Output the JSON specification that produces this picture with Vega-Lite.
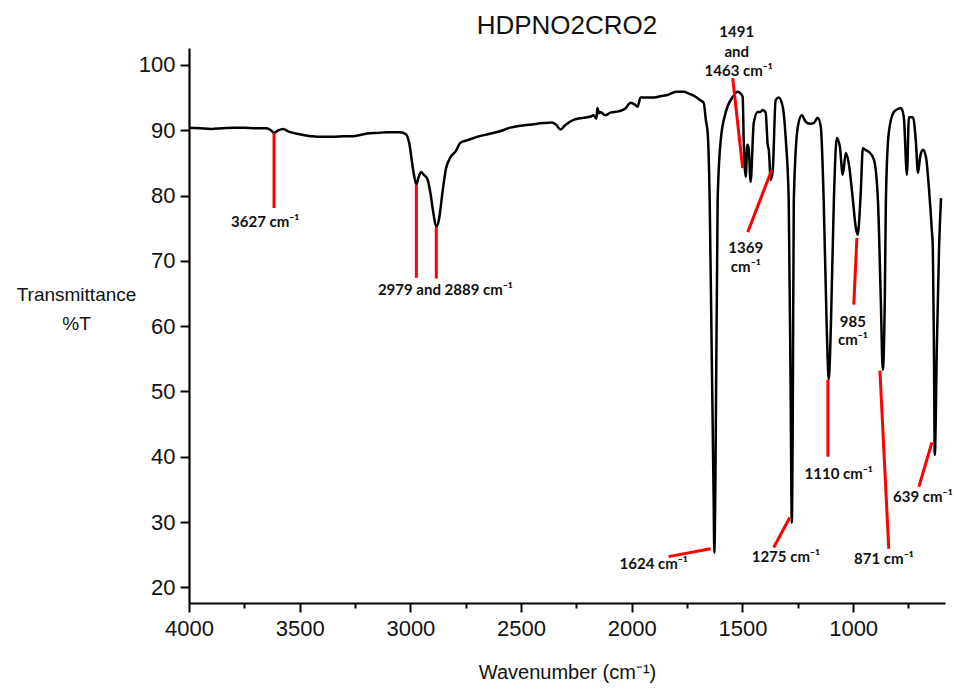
{
  "$schema": "https://vega.github.io/schema/vega-lite/v6.json",
  "autosize": {"type": "none"},
  "padding": {"left": 189, "top": 48, "right": 9, "bottom": 88},
  "width": 756,
  "height": 555,
  "background": "white",
  "config": {"view": {"stroke": null}},
  "title": {"text": "HDPNO2CRO2", "font": "Liberation Sans", "fontSize": 26, "fontWeight": "normal", "color": "#111", "anchor": "middle", "offset": -14},
  "datasets": {
    "spectrum": [
      {"wn": 4000, "t": 90.4}, {"wn": 3950, "t": 90.3}, {"wn": 3900, "t": 90.2}, {"wn": 3850, "t": 90.3},
      {"wn": 3800, "t": 90.4}, {"wn": 3750, "t": 90.4}, {"wn": 3700, "t": 90.3}, {"wn": 3650, "t": 90.3},
      {"wn": 3630, "t": 90.0}, {"wn": 3616, "t": 89.6}, {"wn": 3600, "t": 89.9}, {"wn": 3575, "t": 90.2},
      {"wn": 3550, "t": 89.8}, {"wn": 3500, "t": 89.4}, {"wn": 3450, "t": 89.1}, {"wn": 3421, "t": 89.0},
      {"wn": 3350, "t": 89.0}, {"wn": 3300, "t": 89.1}, {"wn": 3258, "t": 89.1}, {"wn": 3195, "t": 89.5},
      {"wn": 3150, "t": 89.6}, {"wn": 3100, "t": 89.7}, {"wn": 3046, "t": 89.7}, {"wn": 3020, "t": 89.4},
      {"wn": 3005, "t": 88.0}, {"wn": 2990, "t": 84.5}, {"wn": 2980, "t": 82.5}, {"wn": 2973, "t": 81.7},
      {"wn": 2963, "t": 82.8}, {"wn": 2951, "t": 83.6}, {"wn": 2940, "t": 83.2}, {"wn": 2924, "t": 82.6},
      {"wn": 2910, "t": 80.5}, {"wn": 2897, "t": 77.5}, {"wn": 2883, "t": 75.2}, {"wn": 2870, "t": 76.5},
      {"wn": 2855, "t": 80.5}, {"wn": 2840, "t": 84.0}, {"wn": 2820, "t": 85.8}, {"wn": 2795, "t": 86.8},
      {"wn": 2774, "t": 88.1}, {"wn": 2740, "t": 88.5}, {"wn": 2697, "t": 89.0}, {"wn": 2650, "t": 89.4},
      {"wn": 2600, "t": 89.8}, {"wn": 2548, "t": 90.4}, {"wn": 2500, "t": 90.7}, {"wn": 2450, "t": 90.9},
      {"wn": 2399, "t": 91.1}, {"wn": 2360, "t": 91.2}, {"wn": 2340, "t": 90.8}, {"wn": 2322, "t": 90.1},
      {"wn": 2300, "t": 90.8}, {"wn": 2263, "t": 91.6}, {"wn": 2220, "t": 91.9}, {"wn": 2185, "t": 92.1},
      {"wn": 2173, "t": 92.3}, {"wn": 2160, "t": 91.8}, {"wn": 2155, "t": 93.4}, {"wn": 2148, "t": 92.6},
      {"wn": 2141, "t": 92.8}, {"wn": 2120, "t": 92.3}, {"wn": 2096, "t": 92.7}, {"wn": 2060, "t": 92.9},
      {"wn": 2030, "t": 93.3}, {"wn": 2005, "t": 94.2}, {"wn": 1985, "t": 93.9}, {"wn": 1974, "t": 93.6},
      {"wn": 1960, "t": 95.0}, {"wn": 1930, "t": 95.0}, {"wn": 1900, "t": 95.0}, {"wn": 1860, "t": 95.3},
      {"wn": 1838, "t": 95.4}, {"wn": 1800, "t": 95.9}, {"wn": 1766, "t": 95.9}, {"wn": 1740, "t": 95.6},
      {"wn": 1720, "t": 95.3}, {"wn": 1690, "t": 94.6}, {"wn": 1675, "t": 94.2}, {"wn": 1665, "t": 91.5},
      {"wn": 1657, "t": 89.6}, {"wn": 1648, "t": 79.3}, {"wn": 1639, "t": 56.4}, {"wn": 1630, "t": 33.4},
      {"wn": 1627, "t": 25.3}, {"wn": 1622, "t": 36.5}, {"wn": 1612, "t": 79.3}, {"wn": 1598, "t": 88.5},
      {"wn": 1576, "t": 92.7}, {"wn": 1544, "t": 95.1}, {"wn": 1522, "t": 95.9}, {"wn": 1505, "t": 95.5},
      {"wn": 1499, "t": 95.1}, {"wn": 1494, "t": 88.1}, {"wn": 1485, "t": 82.9}, {"wn": 1478, "t": 87.8},
      {"wn": 1472, "t": 87.3}, {"wn": 1463, "t": 82.1}, {"wn": 1449, "t": 91.1}, {"wn": 1431, "t": 92.8},
      {"wn": 1420, "t": 92.8}, {"wn": 1408, "t": 93.1}, {"wn": 1395, "t": 92.7}, {"wn": 1386, "t": 87.8},
      {"wn": 1381, "t": 87.0}, {"wn": 1372, "t": 82.4}, {"wn": 1363, "t": 83.9}, {"wn": 1350, "t": 94.6},
      {"wn": 1336, "t": 95.0}, {"wn": 1318, "t": 93.6}, {"wn": 1304, "t": 88.5}, {"wn": 1291, "t": 79.3},
      {"wn": 1282, "t": 48.7}, {"wn": 1277, "t": 29.9}, {"wn": 1273, "t": 44.1}, {"wn": 1268, "t": 79.3},
      {"wn": 1250, "t": 90.5}, {"wn": 1232, "t": 92.3}, {"wn": 1214, "t": 91.3}, {"wn": 1195, "t": 91.0},
      {"wn": 1178, "t": 91.1}, {"wn": 1160, "t": 91.9}, {"wn": 1146, "t": 90.5}, {"wn": 1133, "t": 79.3},
      {"wn": 1119, "t": 59.4}, {"wn": 1110, "t": 51.8}, {"wn": 1101, "t": 59.4}, {"wn": 1087, "t": 79.3},
      {"wn": 1074, "t": 88.8}, {"wn": 1060, "t": 87.5}, {"wn": 1047, "t": 83.2}, {"wn": 1033, "t": 86.5},
      {"wn": 1020, "t": 85.0}, {"wn": 1001, "t": 79.3}, {"wn": 988, "t": 75.1}, {"wn": 979, "t": 74.0},
      {"wn": 974, "t": 75.5}, {"wn": 965, "t": 80.9}, {"wn": 956, "t": 87.3}, {"wn": 945, "t": 87.0},
      {"wn": 929, "t": 86.7}, {"wn": 906, "t": 85.5}, {"wn": 888, "t": 79.3}, {"wn": 875, "t": 64.0},
      {"wn": 866, "t": 53.3}, {"wn": 857, "t": 64.0}, {"wn": 852, "t": 79.3}, {"wn": 839, "t": 89.6},
      {"wn": 816, "t": 92.8}, {"wn": 795, "t": 93.3}, {"wn": 784, "t": 93.4}, {"wn": 771, "t": 92.0},
      {"wn": 757, "t": 83.2}, {"wn": 748, "t": 92.0}, {"wn": 730, "t": 92.0}, {"wn": 717, "t": 88.5},
      {"wn": 707, "t": 83.5}, {"wn": 697, "t": 86.0}, {"wn": 685, "t": 87.0}, {"wn": 671, "t": 85.9},
      {"wn": 658, "t": 81.3}, {"wn": 645, "t": 75.0}, {"wn": 640, "t": 72.0}, {"wn": 635, "t": 56.4},
      {"wn": 631, "t": 40.3}, {"wn": 622, "t": 56.4}, {"wn": 612, "t": 71.7}, {"wn": 603, "t": 79.6}
    ],
    "leaders": [
      {"x1": 3616, "y1": 89.6, "x2": 3616, "y2": 78.1},
      {"x1": 2973, "y1": 81.6, "x2": 2973, "y2": 67.4},
      {"x1": 2883, "y1": 75.2, "x2": 2883, "y2": 67.3},
      {"x1": 1834, "y1": 24.7, "x2": 1644, "y2": 25.9},
      {"x1": 1359, "y1": 26.1, "x2": 1286, "y2": 30.7},
      {"x1": 1114, "y1": 51.8, "x2": 1114, "y2": 40.0},
      {"x1": 983, "y1": 73.5, "x2": 997, "y2": 63.3},
      {"x1": 879, "y1": 53.2, "x2": 839, "y2": 25.9},
      {"x1": 644, "y1": 42.2, "x2": 703, "y2": 35.4},
      {"x1": 1368, "y1": 83.9, "x2": 1476, "y2": 74.4},
      {"x1": 1544, "y1": 98.0, "x2": 1499, "y2": 84.2}
    ],
    "labels": [
      {"label": "3627 cm⁻¹", "x": 3656, "y": 76.0},
      {"label": "2979 and 2889 cm⁻¹", "x": 2842, "y": 65.6},
      {"label": "1624 cm⁻¹", "x": 1901, "y": 23.5},
      {"label": "1275 cm⁻¹", "x": 1304, "y": 24.7},
      {"label": "1110 cm⁻¹", "x": 1065, "y": 37.4},
      {"label": "985", "x": 1001, "y": 60.7},
      {"label": "cm⁻¹", "x": 1001, "y": 57.9},
      {"label": "871 cm⁻¹", "x": 861, "y": 24.3},
      {"label": "639 cm⁻¹", "x": 685, "y": 33.9},
      {"label": "1369", "x": 1485, "y": 72.0},
      {"label": "cm⁻¹", "x": 1485, "y": 69.1},
      {"label": "1491", "x": 1526, "y": 105.05},
      {"label": "and", "x": 1526, "y": 102.0},
      {"label": "1463 cm⁻¹", "x": 1517, "y": 99.1}
    ]
  },
  "layer": [
    {
      "data": {"name": "spectrum"},
      "mark": {"type": "line", "color": "#000000", "strokeWidth": 2.5, "clip": true, "interpolate": "monotone"},
      "encoding": {
        "x": {
          "field": "wn", "type": "quantitative", "sort": null,
          "scale": {"domain": [585, 4000], "reverse": true, "nice": false, "zero": false},
          "axis": {
            "title": "Wavenumber (cm⁻¹)",
            "values": [4000, 3750, 3500, 3250, 3000, 2750, 2500, 2250, 2000, 1750, 1500, 1250, 1000, 750],
            "labelExpr": "datum.value % 500 === 0 ? datum.label : ''",
            "format": "d",
            "tickSize": {"condition": {"test": "datum.value % 500 === 0", "value": 9}, "value": 5},
            "tickWidth": 2, "tickColor": "#000", "domainColor": "#000", "domainWidth": 2.2,
            "labelFont": "Liberation Sans", "labelFontSize": 22, "labelColor": "#111", "labelPadding": 6,
            "labelFlush": false, "labelOverlap": false, "grid": false,
            "titleFont": "Liberation Sans", "titleFontSize": 20, "titleFontWeight": "normal", "titleColor": "#111",
            "titleBaseline": "alphabetic", "titleY": 75
          }
        },
        "y": {
          "field": "t", "type": "quantitative",
          "scale": {"domain": [17.6, 102.6], "nice": false, "zero": false},
          "axis": {
            "title": ["Transmittance", "%T"],
            "values": [20, 25, 30, 35, 40, 45, 50, 55, 60, 65, 70, 75, 80, 85, 90, 95, 100],
            "labelExpr": "datum.value % 10 === 0 ? datum.label : ''",
            "tickSize": {"condition": {"test": "datum.value % 10 === 0", "value": 9}, "value": 5},
            "tickWidth": 2, "tickColor": "#000", "domainColor": "#000", "domainWidth": 2.2,
            "labelFont": "Liberation Sans", "labelFontSize": 22, "labelColor": "#111", "labelPadding": 5,
            "labelFlush": false, "labelOverlap": false, "grid": false,
            "titleFont": "Liberation Sans", "titleFontSize": 19, "titleFontWeight": "normal", "titleColor": "#111",
            "titleAngle": 0, "titleAlign": "center", "titleBaseline": "alphabetic", "titleLineHeight": 29,
            "titleX": -113, "titleY": 252
          }
        }
      }
    },
    {
      "data": {"name": "leaders"},
      "mark": {"type": "rule", "color": "#FF0000", "strokeWidth": 3},
      "encoding": {
        "x": {"field": "x1", "type": "quantitative"},
        "y": {"field": "y1", "type": "quantitative"},
        "x2": {"field": "x2"},
        "y2": {"field": "y2"}
      }
    },
    {
      "data": {"name": "labels"},
      "mark": {"type": "text", "font": "Lato", "fontWeight": "bold", "fontSize": 15, "color": "#111", "align": "center", "baseline": "middle"},
      "encoding": {
        "x": {"field": "x", "type": "quantitative"},
        "y": {"field": "y", "type": "quantitative"},
        "text": {"field": "label"}
      }
    }
  ]
}
